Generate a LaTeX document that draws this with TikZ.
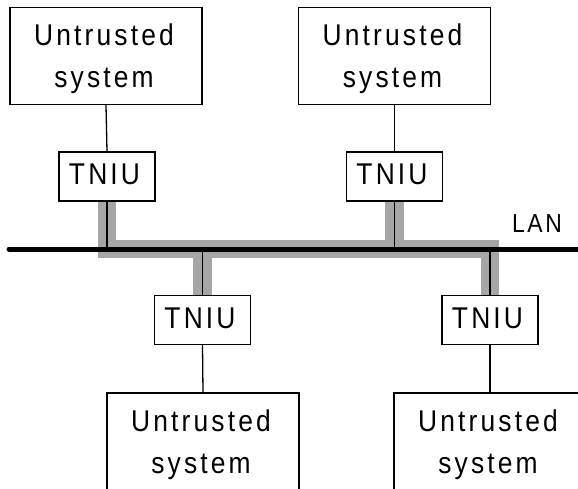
\documentclass[tikz,border=0pt]{standalone}
\usepackage{fontspec}
\setmainfont{Liberation Sans}[LetterSpace=10.5,FakeStretch=0.88]
\definecolor{bandgray}{RGB}{166,166,166}
\begin{document}
\begin{tikzpicture}[x=1pt,y=-1pt,
  sysbox/.style={draw, line width=1.3pt, minimum width=192pt, minimum height=97pt,
    align=center, font=\fontsize{30}{42}\selectfont, inner sep=0pt},
  niu/.style={draw, fill=white, line width=1.3pt, minimum width=96pt, minimum height=49pt,
    font=\fontsize{30}{36}\selectfont, inner sep=0pt, text depth=4pt},
  wire/.style={line width=1.3pt},
  band/.style={line width=18.5pt, draw=bandgray, line join=miter, line cap=butt},
  lan/.style={line width=5pt, line cap=round}]
\useasboundingbox (0,0) rectangle (578,488);
\clip (0,0) rectangle (578,488);
\newcommand{\nodepth}[1]{\raisebox{0pt}[\height][0pt]{#1}}
\newcommand{\systext}{Untrusted\hspace*{4pt}\\\nodepth{system\hspace*{4pt}}}
% untrusted systems
\node[sysbox] (usA) at (106,56) {\systext};
\node[sysbox] (usB) at (394.5,56) {\systext};
\node[sysbox] (usC) at (203,441.5) {\systext};
\node[sysbox] (usD) at (490,441.5) {\systext};
% TNIUs
\node[niu] (nA) at (107,176.5) {TNIU\hspace*{5pt}};
\node[niu] (nB) at (394.5,176.5) {TNIU\hspace*{5pt}};
\node[niu] (nC) at (202.5,320) {TNIU\hspace*{5pt}};
\node[niu] (nD) at (490,320) {TNIU\hspace*{5pt}};
% LAN
\coordinate (lanL) at (9,249);
\coordinate (lanR) at (580,249);
\node[font=\fontsize{26}{30}\selectfont] (lanlbl) at (537,224) {LAN};
% gray band
\draw[band] (nA.south) -- (nA.south |- lanL) -- (nD.north |- lanL) -- (nD.north);
\draw[band] (nB.south) -- (nB.south |- lanL);
\draw[band] (nC.north) -- (nC.north |- lanL);
% LAN line
\draw[lan] (lanL) -- (lanR);
% thin links
\draw[wire] (nA.south) -- (nA.south |- lanL);
\draw[wire] (nB.south) -- (nB.south |- lanL);
\draw[wire] (nC.north) -- (nC.north |- lanL);
\draw[wire] (nD.north) -- (nD.north |- lanL);
\draw[wire] (usA.south) -- (nA.north);
\draw[wire] (usB.south) -- (nB.north);
\draw[wire] (nC.south) -- (usC.north);
\draw[wire] (nD.south) -- (usD.north);
\end{tikzpicture}
\end{document}
